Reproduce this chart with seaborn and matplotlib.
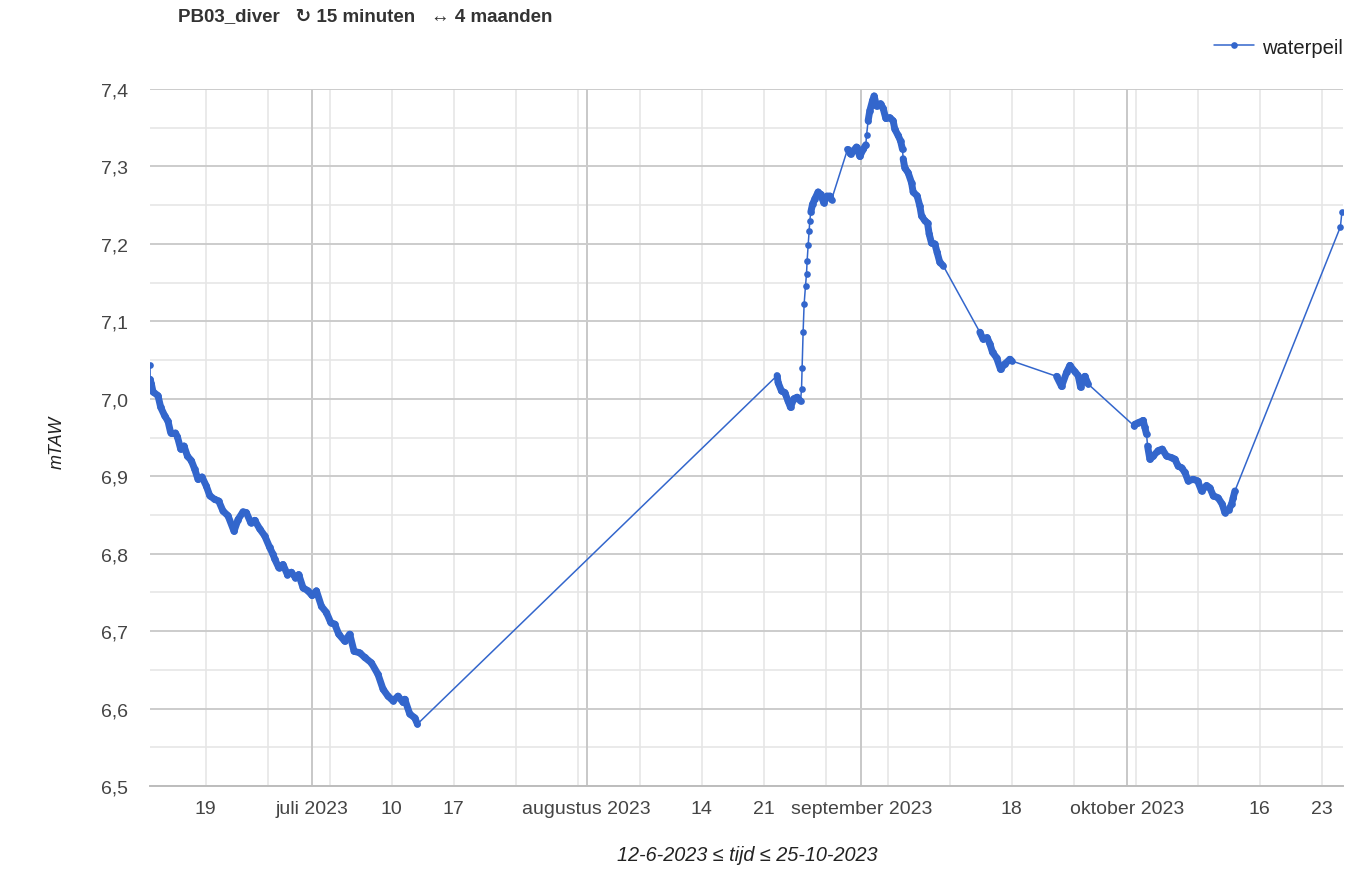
import numpy as np
import pandas as pd
import matplotlib
matplotlib.use("Agg")
import matplotlib.pyplot as plt
import seaborn as sns

# Waterpeil PB03 (mTAW); tijd in dagen sinds 1 juni 2023, per meetreeks
dagen_1 = [11.711, 11.73, 11.869, 12.050, 12.614, 12.919, 13.371, 13.743, 14.048, 14.579,
           14.805, 15.177, 15.550, 15.934, 16.385, 16.758, 17.131, 17.582, 18.079, 18.452,
           19.016, 19.468, 19.953, 20.518, 21.195, 21.647, 22.212, 22.595, 23.081, 23.533,
           24.097, 24.662, 25.226, 25.599, 25.791, 26.242, 26.728, 27.225, 27.676, 28.128,
           28.501, 28.986, 29.551, 30.002, 30.499, 31.064, 31.628, 32.114, 32.565, 33.017,
           33.694, 34.259, 34.745, 35.388, 35.953, 36.709, 37.454, 38.019, 38.583, 39.148,
           39.713, 40.277, 40.469, 41.034, 41.598, 41.903]
peil_1 = [7.043, 7.025, 7.019, 7.009, 7.004, 6.989, 6.978, 6.971, 6.956, 6.956,
          6.951, 6.935, 6.939, 6.926, 6.920, 6.909, 6.896, 6.899, 6.887, 6.875,
          6.870, 6.868, 6.855, 6.849, 6.829, 6.844, 6.854, 6.853, 6.840, 6.843,
          6.832, 6.823, 6.808, 6.799, 6.793, 6.782, 6.786, 6.773, 6.776, 6.769,
          6.773, 6.756, 6.752, 6.746, 6.752, 6.732, 6.724, 6.711, 6.709, 6.696,
          6.687, 6.696, 6.674, 6.672, 6.666, 6.659, 6.644, 6.625, 6.616, 6.610,
          6.616, 6.608, 6.612, 6.593, 6.588, 6.580]

dagen_2 = [82.505, 82.618, 83.002, 83.375, 83.747, 84.018, 84.391, 84.764, 85.148, 85.261,
           85.329, 85.441, 85.554, 85.712, 85.825, 85.893, 86.006, 86.119, 86.198, 86.311,
           86.503, 86.762, 87.135, 87.406, 87.778, 88.151, 88.456, 88.648]
peil_2 = [7.030, 7.021, 7.010, 7.008, 6.997, 6.989, 7.000, 7.002, 6.997, 7.012,
          7.040, 7.086, 7.122, 7.146, 7.161, 7.178, 7.198, 7.217, 7.230, 7.241,
          7.251, 7.258, 7.267, 7.264, 7.253, 7.262, 7.262, 7.257]

dagen_3 = [90.454, 90.793, 91.087, 91.471, 91.843, 92.216, 92.521, 92.600, 92.780, 92.972,
           93.277, 93.458, 93.729, 94.181, 94.474, 94.779, 95.231, 95.603, 95.795, 96.168,
           96.439, 96.665, 96.733, 96.925, 97.297, 97.681, 97.862, 98.313, 98.618, 98.810,
           99.182, 99.487, 99.668, 99.939, 100.311, 100.571, 100.876, 101.249]
peil_3 = [7.322, 7.316, 7.320, 7.325, 7.313, 7.322, 7.328, 7.340, 7.359, 7.372,
          7.385, 7.391, 7.378, 7.381, 7.375, 7.362, 7.363, 7.359, 7.348, 7.340,
          7.333, 7.322, 7.310, 7.298, 7.292, 7.279, 7.267, 7.262, 7.249, 7.236,
          7.230, 7.227, 7.213, 7.201, 7.200, 7.189, 7.176, 7.172]

dagen_4 = [105.392, 105.765, 106.216, 106.521, 106.826, 107.278, 107.730, 108.215, 108.780, 108.972]
peil_4 = [7.086, 7.077, 7.079, 7.071, 7.060, 7.053, 7.038, 7.045, 7.051, 7.049]

dagen_5 = [114.053, 114.618, 115.182, 115.555, 116.120, 116.492, 116.763, 117.249, 117.621]
peil_5 = [7.029, 7.016, 7.034, 7.043, 7.035, 7.030, 7.015, 7.029, 7.019]

dagen_6 = [122.814, 122.893, 123.266, 123.830, 124.022, 124.214, 124.327, 124.587, 124.959, 125.524,
           125.976, 126.472, 127.037, 127.410, 127.782, 128.166, 128.539, 128.911, 129.476, 129.973,
           130.425, 130.989, 131.362, 131.734, 132.299, 132.751, 133.056, 133.507, 133.812, 133.993,
           134.185]
peil_6 = [6.965, 6.967, 6.969, 6.972, 6.963, 6.954, 6.939, 6.922, 6.926, 6.933,
          6.935, 6.926, 6.924, 6.922, 6.913, 6.911, 6.905, 6.894, 6.896, 6.894,
          6.881, 6.888, 6.885, 6.875, 6.872, 6.864, 6.853, 6.857, 6.864, 6.872,
          6.881]

dagen_7 = [146.096, 146.265]
peil_7 = [7.222, 7.241]

# As-labels
y_ticks = [6.5, 6.6, 6.7, 6.8, 6.9, 7.0, 7.1, 7.2, 7.3, 7.4]
x_tick_dates = ["2023-06-19", "2023-07-01", "2023-07-10", "2023-07-17", "2023-08-01",
                "2023-08-14", "2023-08-21", "2023-09-01", "2023-09-18", "2023-10-01",
                "2023-10-16", "2023-10-23"]
x_tick_labels = ["19", "juli 2023", "10", "17", "augustus 2023", "14", "21",
                 "september 2023", "18", "oktober 2023", "16", "23"]
maand_starts = ["2023-07-01", "2023-08-01", "2023-09-01", "2023-10-01"]
weken = pd.date_range("2023-06-19", "2023-10-23", freq="7D")

titel = "PB03_diver   \u21bb 15 minuten   \u2194 4 maanden"
x_titel = "12-6-2023 \u2264 tijd \u2264 25-10-2023"
y_titel = "mTAW"

KLEUR = "#3366cc"
basis = pd.Timestamp("2023-06-01")

reeksen = [(dagen_1, peil_1), (dagen_2, peil_2), (dagen_3, peil_3), (dagen_4, peil_4),
           (dagen_5, peil_5), (dagen_6, peil_6), (dagen_7, peil_7)]
frames = []
for i, (d, p) in enumerate(reeksen):
    frames.append(pd.DataFrame({
        "tijd": basis + pd.to_timedelta(np.array(d), unit="D"),
        "dag": d,
        "waterpeil": p,
        "reeks": i,
    }))
df = pd.concat(frames, ignore_index=True)

sns.set_theme(style="white")
plt.rcParams["font.family"] = ["Liberation Sans", "DejaVu Sans"]

fig = plt.figure(figsize=(13.45, 8.70), dpi=100)
ax = fig.add_axes([150 / 1345, 1 - 787 / 870, (1343 - 150) / 1345, (787 - 90) / 870])

# Rasterlijnen
for t in weken:
    ax.axvline(t, color="#e6e6e6", lw=1.2, zorder=0)
for m in maand_starts:
    ax.axvline(pd.Timestamp(m), color="#c8c8c8", lw=1.4, zorder=0.5)
for v in np.arange(6.55, 7.40, 0.1):
    ax.axhline(v, color="#e6e6e6", lw=1.2, zorder=0)
for v in y_ticks:
    ax.axhline(v, color="#cccccc", lw=1.4, zorder=0.5)

# Dichte meetreeksen: overlappende metingen vormen een brede band,
# behalve waar het peil snel verandert (daar blijven losse punten zichtbaar)
for _, g in df.groupby("reeks"):
    vals = g["waterpeil"].to_numpy()
    dagen = g["dag"].to_numpy()
    times = g["tijd"].to_numpy()
    for j in range(len(vals) - 1):
        helling = abs(vals[j + 1] - vals[j]) / max(dagen[j + 1] - dagen[j], 1e-6)
        if helling <= 0.09:
            ax.plot(times[j:j + 2], vals[j:j + 2], color=KLEUR, lw=5.0,
                    solid_capstyle="round", zorder=2)

sns.lineplot(data=df, x="tijd", y="waterpeil", color=KLEUR, lw=1.1, marker="o",
             markersize=4.8, markeredgewidth=0, sort=True, estimator=None,
             ax=ax, zorder=3, legend=False)

ax.set_xlim(df["tijd"].min(), df["tijd"].max() + pd.Timedelta(hours=3))
ax.set_ylim(6.5, 7.4)

ax.set_yticks(y_ticks)
ax.set_yticklabels([f"{v:.1f}".replace(".", ",") for v in y_ticks])
ax.set_xticks([pd.Timestamp(d) for d in x_tick_dates])
ax.set_xticklabels(x_tick_labels)
ax.tick_params(axis="both", length=0, labelsize=14, colors="#444444")
ax.tick_params(axis="y", pad=16)
ax.tick_params(axis="x", pad=10)
for s in ["top", "right", "left"]:
    ax.spines[s].set_visible(False)
ax.spines["bottom"].set_color("#bdbdbd")
ax.spines["bottom"].set_linewidth(1.4)
ax.set_xlabel("")
ax.set_ylabel("")

fig.text(178 / 1345, 1 - 17 / 870, titel, fontsize=13.5, fontweight="bold",
         color="#333333", va="center", ha="left")
fig.text(747 / 1345, 1 - 856 / 870, x_titel, fontsize=14.3, style="italic",
         color="#222222", va="center", ha="center")
fig.text(57 / 1345, 1 - 442 / 870, y_titel, fontsize=13, style="italic",
         color="#222222", va="center", ha="center", rotation=90)

handle = plt.Line2D([], [], color=KLEUR, lw=1.1, marker="o", markersize=4.8,
                    markeredgewidth=0)
fig.legend([handle], ["waterpeil"], loc="center right",
           bbox_to_anchor=(1343 / 1345, 1 - 48 / 870), frameon=False,
           fontsize=14.5, handlelength=2.0, handletextpad=0.4, borderpad=0,
           borderaxespad=0, labelcolor="#222222")

fig.savefig("out.png", dpi=100)
